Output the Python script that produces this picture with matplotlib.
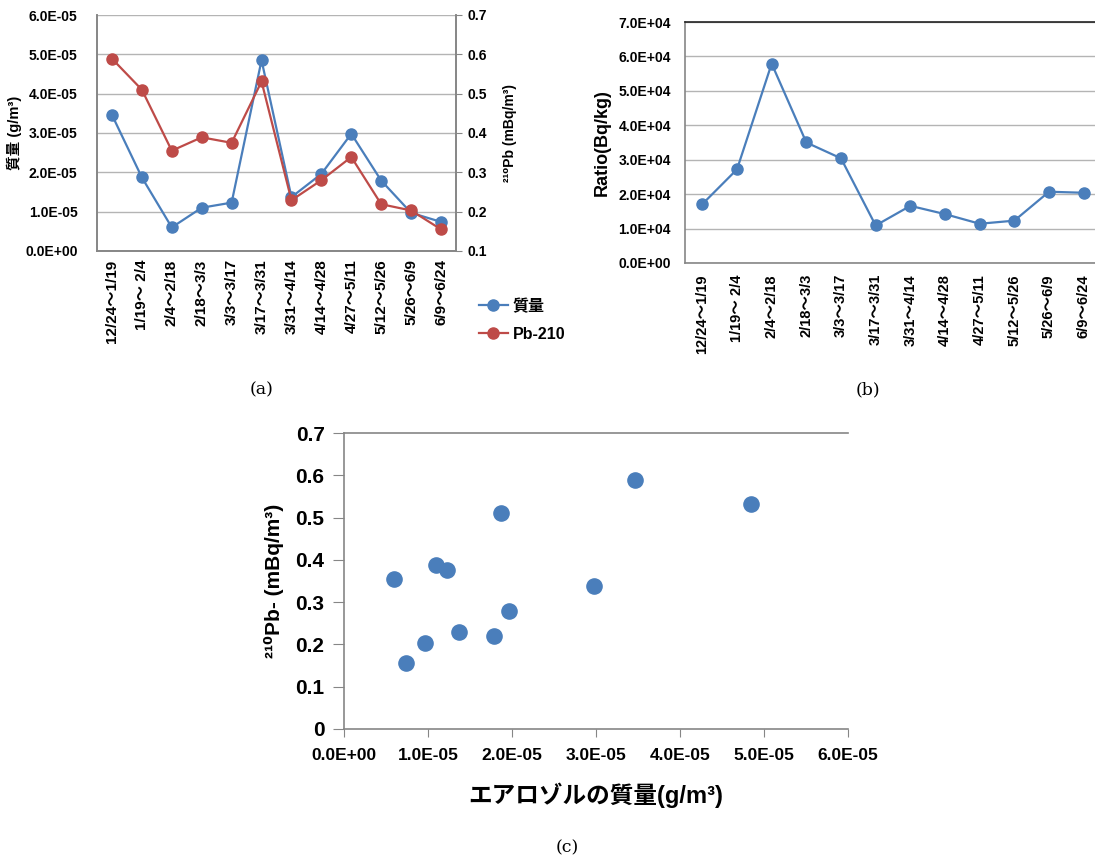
import numpy as np
import matplotlib.pyplot as plt
from matplotlib.lines import Line2D

plt.rcParams["font.family"] = ["Liberation Sans", "Noto Sans CJK JP", "DejaVu Sans"]
plt.rcParams["font.weight"] = "bold"
plt.rcParams["axes.labelweight"] = "bold"

# ---------------- data ----------------
periods = ["12/24～1/19", "1/19～ 2/4", "2/4～2/18", "2/18～3/3", "3/3～3/17",
           "3/17～3/31", "3/31～4/14", "4/14～4/28", "4/27～5/11", "5/12～5/26",
           "5/26～6/9", "6/9～6/24"]
mass = [3.46e-5, 1.87e-5, 0.60e-5, 1.10e-5, 1.23e-5, 4.85e-5,
        1.37e-5, 1.96e-5, 2.98e-5, 1.79e-5, 0.97e-5, 0.74e-5]
pb210 = [0.589, 0.510, 0.355, 0.389, 0.375, 0.531,
         0.229, 0.280, 0.339, 0.219, 0.203, 0.155]
ratio = [1.71e4, 2.72e4, 5.79e4, 3.50e4, 3.04e4, 1.09e4,
         1.66e4, 1.42e4, 1.14e4, 1.23e4, 2.07e4, 2.04e4]

blue = "#4A7EBB"
red = "#BE4B48"
spine_col = "#868686"
grid_col = "#B4B4B4"
W, H = 1095, 861


def px_axes(fig, l, t, r, b):
    """Axes from pixel box (left, top, right, bottom)."""
    return fig.add_axes([l / W, 1 - b / H, (r - l) / W, (b - t) / H])


def sci(v, _):
    return f"{v:.1E}"


def style_box(ax, sides=("left", "bottom", "right")):
    for s in ax.spines:
        ax.spines[s].set_visible(s in sides)
        ax.spines[s].set_color(spine_col)
        ax.spines[s].set_linewidth(1.2)


fig = plt.figure(figsize=(W / 100, H / 100), dpi=100)
x = np.arange(len(periods))

# ================ (a) ================
ax = px_axes(fig, 97, 15, 456, 251)
ax2 = ax.twinx()
ax.plot(x, mass, "-o", color=blue, lw=1.6, ms=8)
ax2.plot(x, pb210, "-o", color=red, lw=1.6, ms=8)
ax.set_xlim(-0.5, len(periods) - 0.5)
ax.set_ylim(0, 6e-5)
ax.set_yticks(np.arange(0, 6.01e-5, 1e-5))
ax.yaxis.set_major_formatter(plt.FuncFormatter(sci))
ax2.set_ylim(0.1, 0.7)
ax2.set_yticks(np.arange(0.1, 0.71, 0.1))
ax2.yaxis.set_major_formatter(plt.FuncFormatter(lambda v, _: f"{v:.1f}"))
ax.grid(axis="y", color=grid_col, lw=1)
ax.set_axisbelow(True)
ax.set_xticks(x)
ax.set_xticklabels(periods, rotation=90, fontsize=11)
ax.tick_params(axis="x", length=0, pad=6)
ax.tick_params(axis="y", length=0, labelsize=10, pad=14)
ax2.tick_params(axis="y", length=4, color=spine_col, labelsize=10, pad=4)
style_box(ax)
style_box(ax2)
ax.set_ylabel("質量 (g/m³)", fontsize=10.5, labelpad=2)
ax2.set_ylabel("²¹⁰Pb (mBq/m³)", fontsize=10, labelpad=12)
handles = [Line2D([], [], color=blue, marker="o", lw=1.6, ms=8),
           Line2D([], [], color=red, marker="o", lw=1.6, ms=8)]
fig.legend(handles, ["質量", "Pb-210"], loc="center",
           bbox_to_anchor=(522 / W, 1 - 320 / H), frameon=False,
           fontsize=11.5, handlelength=1.8, handletextpad=0.3, labelspacing=0.8)
fig.text(262 / W, 1 - 390 / H, "(a)", family="DejaVu Serif",
         weight="normal", fontsize=12.5, ha="center", va="center")

# ================ (b) ================
bx = px_axes(fig, 685, 22, 1101, 263)
bx.plot(x, ratio, "-o", color=blue, lw=1.6, ms=8)
bx.set_xlim(-0.5, len(periods) - 0.5)
bx.set_ylim(0, 7e4)
bx.set_yticks(np.arange(0, 7.01e4, 1e4))
bx.yaxis.set_major_formatter(plt.FuncFormatter(lambda v, _: f"{v:.1E}"))
bx.grid(axis="y", color=grid_col, lw=1)
bx.set_axisbelow(True)
bx.set_xticks(x)
bx.set_xticklabels(periods, rotation=90, fontsize=10.5)
bx.tick_params(axis="x", length=0, pad=8)
bx.tick_params(axis="y", length=0, labelsize=10, pad=10)
style_box(bx, ("left", "bottom", "top"))
bx.spines["top"].set_color("#222222")
bx.set_ylabel("Ratio(Bq/kg)", fontsize=13, labelpad=6)
fig.text(868 / W, 1 - 390 / H, "(b)", family="DejaVu Serif",
         weight="normal", fontsize=12.5, ha="center", va="center")

# ================ (c) ================
cx = px_axes(fig, 344, 433, 848, 729)
cx.scatter(mass, pb210, s=120, color=blue, zorder=3)
cx.set_xlim(0, 6e-5)
cx.set_ylim(0, 0.7)
cx.set_xticks(np.arange(0, 6.01e-5, 1e-5))
cx.xaxis.set_major_formatter(plt.FuncFormatter(sci))
cx.set_yticks(np.arange(0, 0.71, 0.1))
cx.yaxis.set_major_formatter(plt.FuncFormatter(lambda v, _: "0" if v == 0 else f"{v:.1f}"))
cx.tick_params(axis="x", length=6, color=spine_col, labelsize=12.5, pad=8)
cx.tick_params(axis="y", length=8, color=spine_col, labelsize=15, pad=6)
style_box(cx, ("left", "bottom", "top"))
cx.set_xlabel("エアロゾルの質量(g/m³)", fontsize=17, labelpad=14)
cx.set_ylabel("²¹⁰Pb- (mBq/m³)", fontsize=15, labelpad=8)
fig.text(567 / W, 1 - 848 / H, "(c)", family="DejaVu Serif",
         weight="normal", fontsize=12.5, ha="center", va="center")

fig.savefig("out.png", dpi=100)
